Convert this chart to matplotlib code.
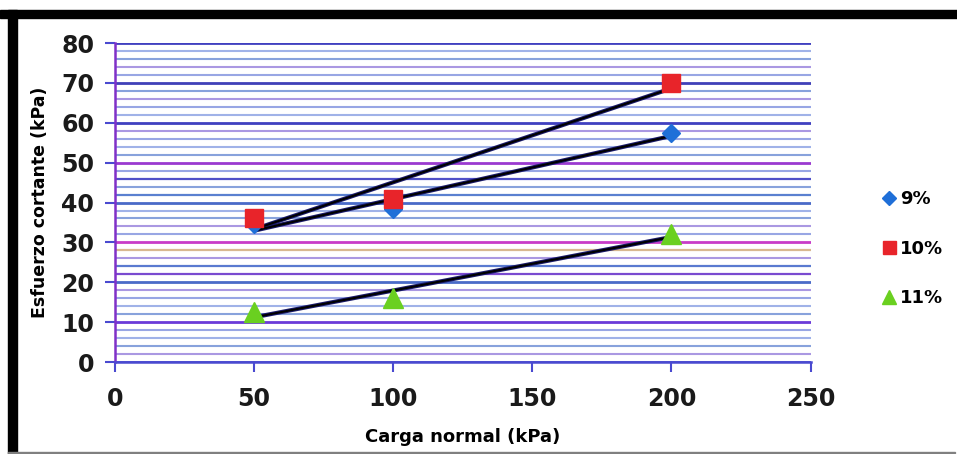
import numpy as np
import matplotlib
matplotlib.use("Agg")
import matplotlib.pyplot as plt
from matplotlib.patches import Rectangle
from matplotlib.lines import Line2D

# datos
carga = [50, 100, 200]
esf_9 = [34.5, 38.5, 57.5]
esf_10 = [36, 41, 70]
esf_11 = [12.5, 16, 32]
etiquetas = ["9%", "10%", "11%"]

# colores de las líneas de cuadrícula (cada 2 kPa, de 0 a 80)
grid_colores = {
    0: "#4a4ad0", 10: "#6a3ad8", 20: "#4a6ac8", 30: "#c83cc8", 40: "#4a6ac8",
    50: "#9a3ad0", 60: "#4040c0", 70: "#4040b8", 80: "#4040c0",
    28: "#d8b890", 22: "#7a4ad0", 24: "#5a7ad0", 46: "#5050c8", 42: "#5a80d0",
}

fig = plt.figure(figsize=(9.57, 4.54), dpi=100)
ax = fig.add_axes([0.120, 0.2026, 0.727, 0.7026])

for v in range(0, 82, 2):
    if v in grid_colores:
        c = grid_colores[v]
        lw = 2.0 if v % 10 == 0 else 1.6
    else:
        c = ["#98a6e4", "#aa98e2", "#88a2dc", "#a0b2e8"][v // 2 % 4]
        lw = 1.5
    ax.axhline(v, color=c, lw=lw, zorder=1)

series = [(esf_9, "D", "#1f6fd8", 9.5, 4.5), (esf_10, "s", "#e8242a", 13, 5),
          (esf_11, "^", "#6ad020", 14, 5)]
handles = []
for (vals, mk, col, ms, z), lab in zip(series, etiquetas):
    m, b = np.polyfit(carga, vals, 1)
    xs = np.array([carga[0], carga[-1]])
    ax.plot(xs, m * xs + b, color="#1a1a6a", lw=3.0, zorder=3, solid_capstyle="round")
    ax.plot(xs, m * xs + b, color="black", lw=1.5, zorder=4)
    ax.plot(carga, vals, linestyle="none", marker=mk, ms=ms, color=col,
            markeredgecolor=col, zorder=z)
    handles.append(Line2D([], [], linestyle="none", marker=mk, ms=ms * 0.72,
                          color=col, label=lab))

ax.set_xlim(0, 250)
ax.set_ylim(0, 80)
ax.set_xticks([0, 50, 100, 150, 200, 250])
ax.set_yticks(range(0, 90, 10))
for s in ["top", "right"]:
    ax.spines[s].set_visible(False)
ax.spines["left"].set_color("#8030c8")
ax.spines["left"].set_linewidth(1.8)
ax.spines["bottom"].set_color("#4a4ad0")
ax.spines["bottom"].set_linewidth(1.8)
ax.tick_params(axis="both", direction="out", length=7, width=1.5, colors="#4a4ad0",
               labelcolor="#1a1a1a", labelsize=17)
for t in ax.get_xticklabels() + ax.get_yticklabels():
    t.set_fontweight("bold")
ax.tick_params(axis="x", pad=11)
ax.tick_params(axis="y", pad=8)

ax.set_xlabel("Carga normal (kPa)", fontsize=13, fontweight="bold", labelpad=12)
ax.set_ylabel("Esfuerzo cortante (kPa)", fontsize=12.5, fontweight="bold", labelpad=9)

leg = fig.legend(handles=handles, loc="center left", bbox_to_anchor=(0.915, 0.452),
                 frameon=False, handlelength=0.5, handletextpad=0.35,
                 labelspacing=1.75, borderpad=0, prop={"weight": "bold", "size": 13})

# marco negro de la figura
fig.patches.append(Rectangle((0, 0.960), 1, 0.018, transform=fig.transFigure,
                             color="black", zorder=10))
fig.patches.append(Rectangle((0.0084, 0.0), 0.0094, 0.978, transform=fig.transFigure,
                             color="black", zorder=10))
fig.patches.append(Rectangle((0.0084, 0.002), 0.99, 0.003, transform=fig.transFigure,
                             color="#808080", zorder=10))

fig.savefig("out.png", dpi=100)
